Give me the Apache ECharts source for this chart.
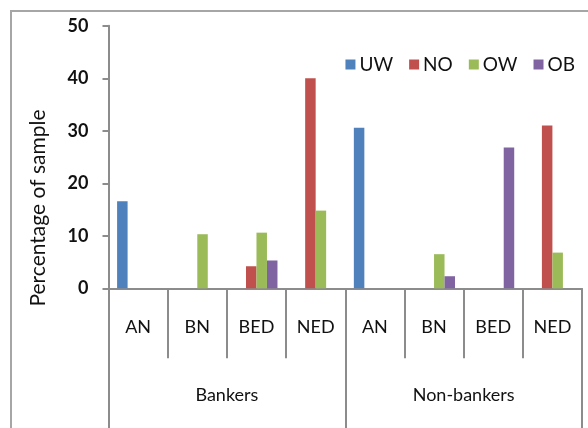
<!DOCTYPE html>
<html>
<head>
<meta charset="utf-8">
<style>
  html, body { margin: 0; padding: 0; background: #fff; }
  #chart { width: 588px; height: 428px; }
</style>
<script src="https://cdn.jsdelivr.net/npm/echarts@6/dist/echarts.min.js"></script>
</head>
<body>
<div id="chart"></div>
<script>
// Sub-categories repeated under each group
const subCategories = ['AN', 'BN', 'BED', 'NED', 'AN', 'BN', 'BED', 'NED'];
const groups = ['Bankers', 'Non-bankers'];

// Percentage of sample per series (null = no bar)
const uw = [16.6, null, null, null, 30.6, null, null, null];
const no = [null, null, 4.2, 40.0, null, null, null, 31.0];
const ow = [null, 10.3, 10.6, 14.8, null, 6.5, null, 6.8];
const ob = [null, null, 5.3, null, null, 2.3, 26.8, null];

const yTicks = { min: 0, max: 50, step: 10 };

const FONT = 'Lato, "Open Sans", sans-serif';
const AXIS_GREY = '#8c8c8c';
const TEXT = '#111111';

const chart = echarts.init(document.getElementById('chart'), null, { renderer: 'canvas' });

function barSeries(name, data, color) {
  return {
    name: name,
    type: 'bar',
    data: data,
    barWidth: 10.5,
    barGap: '0%',
    itemStyle: { color: color },
    xAxisIndex: 0
  };
}

chart.setOption({
  animation: false,
  backgroundColor: '#ffffff',
  grid: { left: 108.5, right: 6, top: 25.8, bottom: 139.7, containLabel: false },
  legend: {
    top: 50,
    right: 8,
    itemWidth: 10,
    itemHeight: 10,
    itemGap: 16,
    icon: 'rect',
    textStyle: { fontFamily: FONT, fontSize: 19, color: TEXT, padding: [0, 0, 0, -1] },
    data: ['UW', 'NO', 'OW', 'OB']
  },
  xAxis: [
    {
      type: 'category',
      data: subCategories,
      position: 'bottom',
      axisLine: { show: true, lineStyle: { color: AXIS_GREY, width: 2 } },
      axisTick: { show: true, interval: 0, length: 70, lineStyle: { color: AXIS_GREY, width: 2 } },
      axisLabel: { interval: 0, margin: 30, fontFamily: FONT, fontSize: 18, color: TEXT },
      splitLine: { show: false }
    },
    {
      type: 'category',
      data: groups,
      position: 'bottom',
      axisLine: { show: false },
      axisTick: { show: true, interval: 0, length: 140, lineStyle: { color: AXIS_GREY, width: 2 } },
      axisLabel: { interval: 0, margin: 98, fontFamily: FONT, fontSize: 18, color: TEXT },
      splitLine: { show: false }
    }
  ],
  yAxis: {
    type: 'value',
    min: yTicks.min,
    max: yTicks.max,
    interval: yTicks.step,
    axisLine: { show: true, lineStyle: { color: AXIS_GREY, width: 2 } },
    axisTick: { show: true, length: 6, lineStyle: { color: AXIS_GREY, width: 2 } },
    axisLabel: { margin: 20, fontFamily: FONT, fontSize: 18, fontWeight: 'bold', color: TEXT },
    splitLine: { show: false }
  },
  graphic: [
    {
      type: 'rect',
      shape: { x: 11, y: 11, width: 700, height: 600 },
      style: { fill: 'none', stroke: '#a6a6a6', lineWidth: 2 },
      silent: true,
      z: 0
    },
    {
      type: 'text',
      x: 38,
      y: 208,
      rotation: Math.PI / 2,
      style: {
        text: 'Percentage of sample',
        fontFamily: FONT,
        fontSize: 21,
        fill: TEXT,
        textAlign: 'center',
        textVerticalAlign: 'middle'
      },
      silent: true
    }
  ],
  series: [
    barSeries('UW', uw, '#4f81bd'),
    barSeries('NO', no, '#c0504d'),
    barSeries('OW', ow, '#9bbb59'),
    barSeries('OB', ob, '#8064a2')
  ]
});
</script>
</body>
</html>
